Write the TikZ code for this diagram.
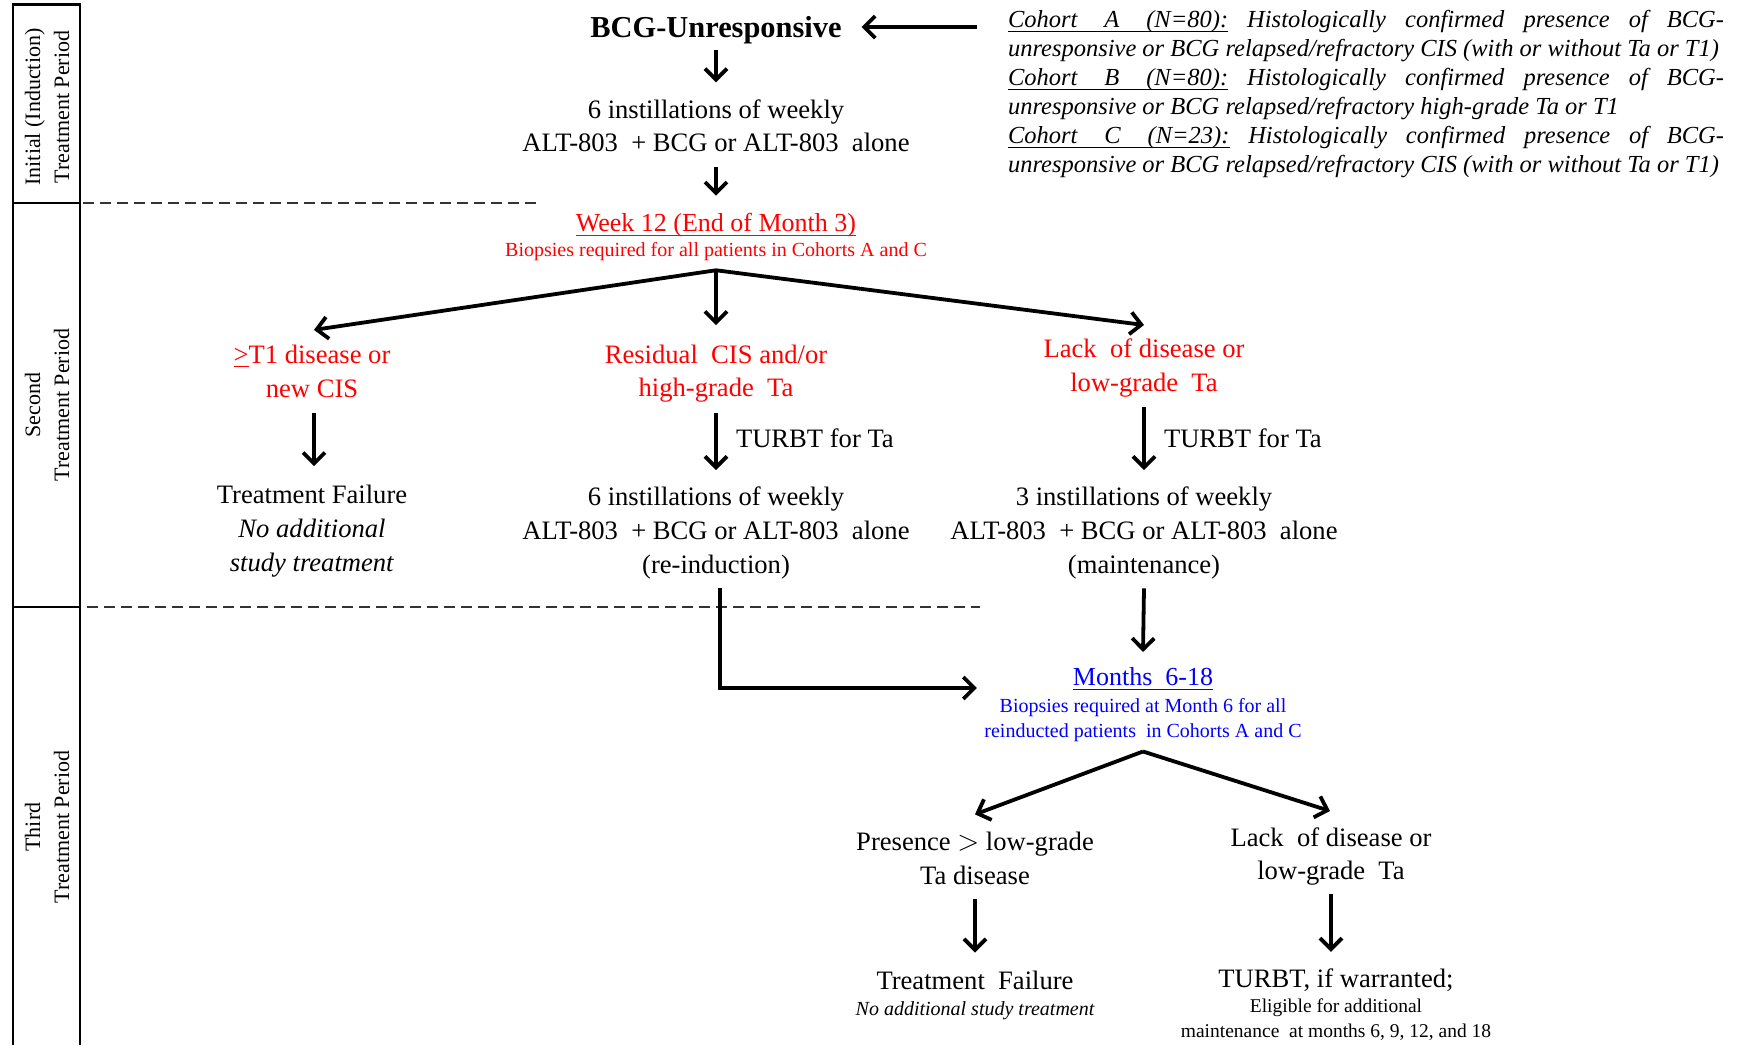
\documentclass[tikz,border=0pt]{standalone}
\usepackage{fontspec}
\setmainfont{Liberation Serif}
\usetikzlibrary{arrows.meta,calc}
\definecolor{fred}{RGB}{255,0,0}
\definecolor{fblue}{RGB}{0,0,255}
\newcommand{\myul}[1]{\setbox0\hbox{#1}\rlap{\rule[-2.3pt]{\wd0}{0.55pt}}\box0\relax}
\newcommand{\cohortlab}[1]{\myul{Cohort\hspace{1.1em}#1}}
\tikzset{
  txt/.style={inner sep=0pt, outer sep=0pt, align=center, font=\fontsize{13.3pt}{16.75pt}\selectfont},
  txtb/.style={txt, font=\fontsize{13.3pt}{17.1pt}\selectfont},
  redtxt/.style={txt, text=fred},
  titlesty/.style={inner sep=0pt, outer sep=0pt, font=\fontsize{13pt}{16pt}\selectfont},
  smallsty/.style={inner sep=0pt, outer sep=0pt, align=center, font=\fontsize{10pt}{12.3pt}\selectfont},
  periodsty/.style={rotate=90, inner sep=0pt, align=center, font=\fontsize{11pt}{14.5pt}\selectfont},
  cohortsty/.style={inner sep=0pt, outer sep=0pt, text width=358pt, align=justify, font=\itshape\fontsize{12.25pt}{14.45pt}\selectfont},
  arr/.style={line width=1.9pt, -{Straight Barb[length=5.5pt,width=11pt]}},
  frame/.style={line width=1.4pt},
  sep/.style={line width=1.3pt, draw=black!80, dash pattern=on 5.5pt off 3pt}
}
\begin{document}
\begin{tikzpicture}[x=0.5pt,y=-0.5pt]
\useasboundingbox (0,0) rectangle (1741,1045);
% period column
\draw[frame] (13,1045) -- (13,4.5) -- (80,4.5) -- (80,1045);
\draw[frame] (13,203) -- (80,203);
\draw[frame] (13,607) -- (80,607);
\node[periodsty] (p1) at (47,107) {Initial (Induction)\\Treatment Period};
\node[periodsty] (p2) at (47,405) {Second\\Treatment Period};
\node[periodsty] (p3) at (47,827) {Third\\Treatment Period};
\draw[sep] (83,203) -- (536,203);
\draw[sep] (87,607) -- (980,607);

% initial period
\node[txt, font=\bfseries\fontsize{15.2pt}{18pt}\selectfont, anchor=base] (bcg) at (716,37) {BCG-Unresponsive};
\node[cohortsty, anchor=base west] (cohort) at (1008,27.5) {\tolerance=10000\hyphenpenalty=10000
\cohortlab{A\hspace{1.1em}(N=80):} Histologically confirmed presence of BCG-\linebreak
unresponsive or BCG relapsed/refractory CIS (with or without Ta or T1)\newline
\cohortlab{B\hspace{1.1em}(N=80):} Histologically confirmed presence of BCG-\linebreak
unresponsive or BCG relapsed/refractory high-grade Ta or T1\newline
\cohortlab{C\hspace{1.1em}(N=23):} Histologically confirmed presence of BCG-\linebreak
unresponsive or BCG relapsed/refractory CIS (with or without Ta or T1)};
\coordinate (cohorttail) at ($(cohort.base west)+(-31,-0.5)$);
\node[txt] (inst1) at (716,126) {6 instillations of weekly\\ALT-803\ \ + BCG or ALT-803\ \ alone};
\node[titlesty, text=fred, anchor=base] (wk) at (716,231) {\myul{Week 12 (End of Month 3)}};
\node[smallsty, text=fred, anchor=base] (wkbio) at (716,256) {Biopsies required for all patients in Cohorts A and C};
\coordinate (wkapex) at ($(wkbio.south)+(0,10)$);

% second period
\node[redtxt] (lt1) at (312,371.5) {\underline{>}T1 disease or\\new CIS};
\node[redtxt] (res) at (716,373.5) {Residual\ \ CIS and/or\\high-grade\ \ Ta};
\node[redtxt] (lack) at (1144,368) {Lack\ \ of disease or\\low-grade\ \ Ta};
\node[txt, anchor=base west] (turbt1) at (736,447.5) {TURBT for Ta};
\node[txt, anchor=base west] (turbt2) at (1164,447.5) {TURBT for Ta};
\node[txtb] (tf1) at (312,531) {Treatment Failure\\\textit{No additional}\\\textit{study treatment}};
\node[txtb] (inst2) at (716,533) {6 instillations of weekly\\ALT-803\ \ + BCG or ALT-803\ \ alone\\(re-induction)};
\node[txtb] (inst3) at (1144,533) {3 instillations of weekly\\ALT-803\ \ + BCG or ALT-803\ \ alone\\(maintenance)};

% third period
\node[titlesty, text=fblue, anchor=base] (months) at (1143,685) {\myul{Months\ \ 6-18}};
\node[smallsty, text=fblue] (mbio) at (1143,720) {Biopsies required at Month 6 for all\\reinducted patients\ \ in Cohorts A and C};
\coordinate (mapex) at ($(mbio.south)+(0,10)$);
\node[txt] (pres) at (975,858.5) {Presence $>$ low-grade\\Ta disease};
\node[txt] (lack2) at (1331,856.5) {Lack\ \ of disease or\\low-grade\ \ Ta};
\node[txt, anchor=base] (tf2) at (975,989) {Treatment\ \ Failure};
\node[smallsty, font=\itshape\fontsize{10pt}{12pt}\selectfont, anchor=base] (tf2sub) at (975,1015) {No additional study treatment};
\node[txt, anchor=base] (turbt3) at (1336,987) {TURBT, if warranted;};
\node[smallsty, font=\fontsize{9.75pt}{12.25pt}\selectfont] (elig) at (1336,1019.5) {Eligible for additional\\maintenance\ \ at months 6, 9, 12, and 18};

% connectors
\draw[arr] (cohorttail) -- ($(cohorttail -| bcg.east)+(20,0)$);
\draw[arr] ($(bcg.south)+(0,6.4)$) -- ($(inst1.north)+(0,-17.5)$);
\draw[arr] ($(inst1.south)+(0,15)$) -- ($(wk.north)+(0,-17)$);
\draw[arr] (wkapex) -- ($(lt1.north)+(2,-15.5)$);
\draw[arr] (wkapex) -- ($(res.north)+(0,-19.5)$);
\draw[arr] (wkapex) -- ($(lack.north)+(0,-14)$);
\draw[arr] ($(lt1.south)+(2,15.5)$) -- ($(tf1.north)+(2,-18.5)$);
\draw[arr] ($(res.south)+(0,10.6)$) -- ($(inst2.north)+(0,-16.5)$);
\draw[arr] ($(lack.south)+(0,10)$) -- ($(inst3.north)+(0,-16.5)$);
\draw[arr] ($(inst2.south)+(4,9)$) |- ($(months.base west)+(-96,3)$);
\draw[arr] ($(inst3.south)+(0,9)$) -- ($(months.north)+(0,-15)$);
\draw[arr] (mapex) -- ($(pres.north)+(0,-18)$);
\draw[arr] (mapex) -- ($(lack2.north)+(-1,-16.5)$);
\draw[arr] ($(pres.south)+(0,14)$) -- ($(tf2.north)+(0,-18)$);
\draw[arr] ($(lack2.south)+(0,9)$) -- ($(lack2.south |- turbt3.north)+(0,-16.5)$);
\end{tikzpicture}
\end{document}
